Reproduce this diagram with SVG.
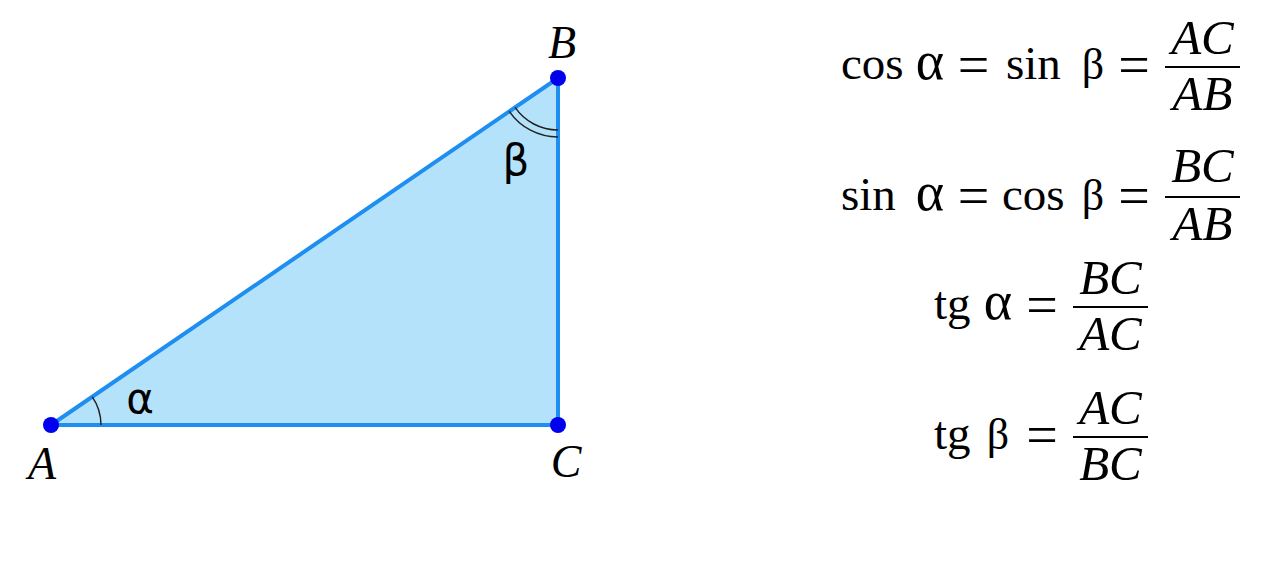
<svg xmlns="http://www.w3.org/2000/svg" width="1287" height="561" viewBox="0 0 1287 561">
<style>
.edge{stroke:#1e8ef0;stroke-width:4;fill:none;stroke-linecap:round}
.arc{stroke:#222;stroke-width:1.5;fill:none}
.pt{fill:#0000ee}
.lbl{font-family:"Liberation Serif",serif;font-style:italic;font-size:46px;fill:#000;text-anchor:middle}
.gk{font-family:"DejaVu Sans",sans-serif;font-size:42px;fill:#000;text-anchor:middle}
.m{font-family:"Liberation Serif",serif;font-size:47px;fill:#000}
.g{font-family:"Liberation Serif",serif;font-size:54px;fill:#000;text-anchor:middle}
.b{font-family:"Liberation Serif",serif;font-size:44px;fill:#000;text-anchor:middle}
.mi{font-family:"Liberation Serif",serif;font-style:italic;font-size:49px;fill:#000;text-anchor:middle}
.eq{font-family:"Liberation Serif",serif;font-size:56px;fill:#000;text-anchor:middle}
.bar{stroke:#000;stroke-width:2}
</style>
<rect width="1287" height="561" fill="#fff"/>
<g id="triangle">
<polygon points="51,425 558,78 558,425" fill="#b4e2fa" stroke="none"/>
<path class="edge" d="M51,425 L558,78 L558,425 Z"/>
</g>
<g id="angles">
<path class="arc" d="M101,425 A50,50 0 0 0 92.3,396.8"/>
<path class="arc" d="M515.1,107.4 A52,52 0 0 0 558,130"/>
<path class="arc" d="M509.3,111.3 A59,59 0 0 0 558,137"/>
<text class="gk" x="140" y="413">α</text>
<text class="gk" x="516" y="175">β</text>
</g>
<g id="A"><circle class="pt" cx="51" cy="425" r="8"/><text class="lbl" x="42" y="479">A</text></g>
<g id="B"><circle class="pt" cx="558" cy="78" r="8"/><text class="lbl" x="562" y="58">B</text></g>
<g id="C"><circle class="pt" cx="558" cy="425" r="8"/><text class="lbl" x="566" y="477">C</text></g>
<g id="formula1">
<text class="m" x="841" y="79">cos</text><text class="g" x="930" y="79">α</text>
<text class="eq" x="973.5" y="84">=</text>
<text class="m" x="1006" y="79">sin</text><text class="b" x="1093" y="79">β</text>
<text class="eq" x="1134" y="84">=</text>
<text class="mi" x="1202.5" y="54">AC</text>
<line class="bar" x1="1165" y1="67" x2="1240" y2="67"/>
<text class="mi" x="1202.5" y="110">AB</text>
</g>
<g id="formula2">
<text class="m" x="841" y="210">sin</text><text class="g" x="930" y="210">α</text>
<text class="eq" x="973.5" y="215">=</text>
<text class="m" x="1002" y="210">cos</text><text class="b" x="1093" y="210">β</text>
<text class="eq" x="1134" y="215">=</text>
<text class="mi" x="1202.5" y="182">BC</text>
<line class="bar" x1="1165" y1="197" x2="1240" y2="197"/>
<text class="mi" x="1202.5" y="240">AB</text>
</g>
<g id="formula3">
<text class="m" x="934" y="319">tg</text><text class="g" x="998" y="319">α</text>
<text class="eq" x="1042" y="324">=</text>
<text class="mi" x="1110.5" y="294">BC</text>
<line class="bar" x1="1073" y1="307" x2="1148" y2="307"/>
<text class="mi" x="1110.5" y="350">AC</text>
</g>
<g id="formula4">
<text class="m" x="934" y="449">tg</text><text class="b" x="998" y="449">β</text>
<text class="eq" x="1042" y="454">=</text>
<text class="mi" x="1110.5" y="424">AC</text>
<line class="bar" x1="1073" y1="437" x2="1148" y2="437"/>
<text class="mi" x="1110.5" y="480">BC</text>
</g>
</svg>
